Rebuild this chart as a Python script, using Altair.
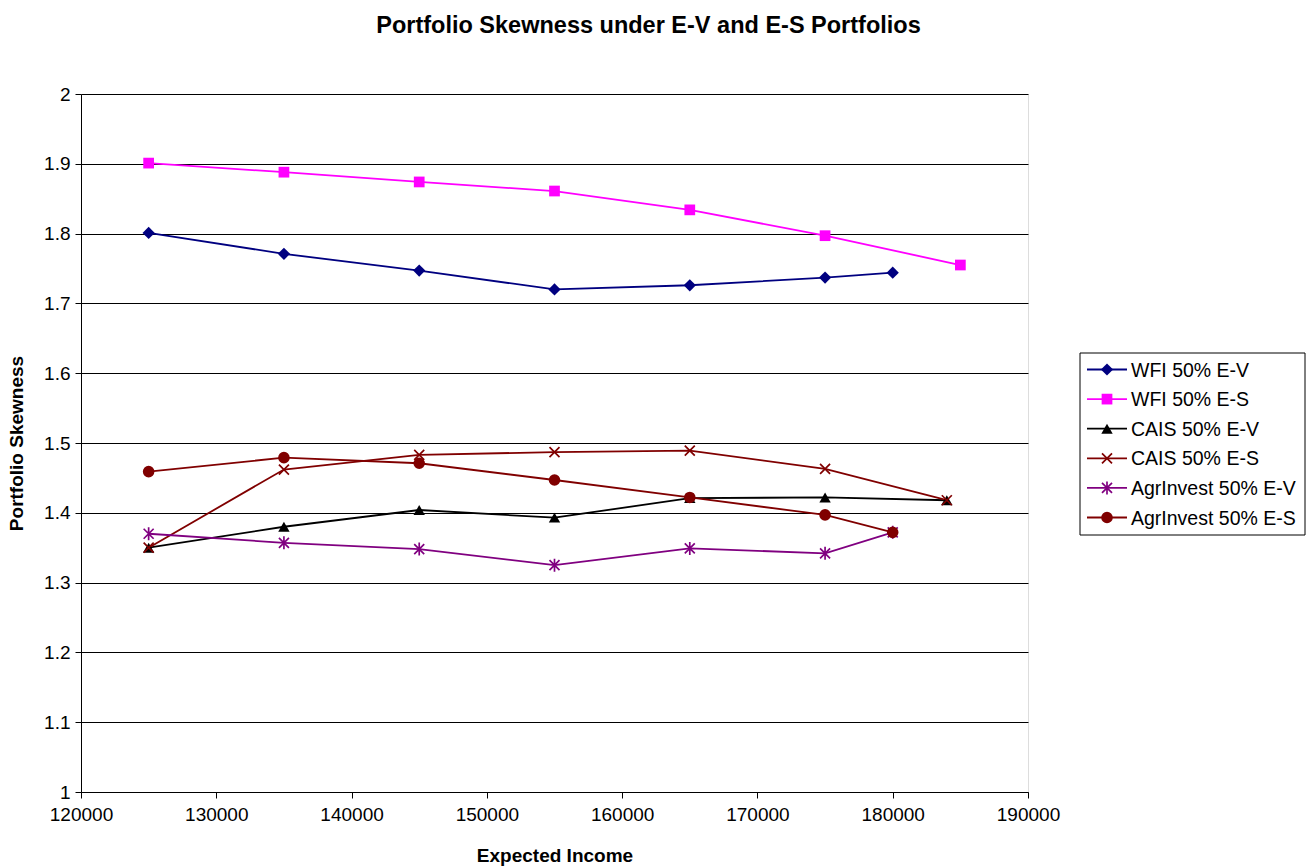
import altair as alt
import pandas as pd

# ---- data -------------------------------------------------------------
series_names = [
    "WFI 50% E-V",
    "WFI 50% E-S",
    "CAIS 50% E-V",
    "CAIS 50% E-S",
    "AgrInvest 50% E-V",
    "AgrInvest 50% E-S",
]
series_colors = ["#000080", "#FF00FF", "#000000", "#800000", "#800080", "#800000"]

income_common = [125000, 135000, 145000, 155000, 165000, 175000]

wfi_ev_income = income_common + [180000]
wfi_ev_skew = [1.801, 1.771, 1.747, 1.720, 1.726, 1.737, 1.744]

wfi_es_income = income_common + [185000]
wfi_es_skew = [1.901, 1.888, 1.874, 1.861, 1.834, 1.797, 1.755]

cais_ev_income = income_common + [184000]
cais_ev_skew = [1.350, 1.380, 1.404, 1.393, 1.421, 1.422, 1.418]

cais_es_income = income_common + [184000]
cais_es_skew = [1.350, 1.462, 1.483, 1.487, 1.489, 1.463, 1.418]

agr_ev_income = income_common + [180000]
agr_ev_skew = [1.370, 1.357, 1.348, 1.325, 1.349, 1.342, 1.372]

agr_es_income = income_common + [180000]
agr_es_skew = [1.459, 1.479, 1.471, 1.447, 1.422, 1.397, 1.372]

x_ticks = [120000, 130000, 140000, 150000, 160000, 170000, 180000, 190000]
y_ticks = [1.0, 1.1, 1.2, 1.3, 1.4, 1.5, 1.6, 1.7, 1.8, 1.9, 2.0]

all_income = [wfi_ev_income, wfi_es_income, cais_ev_income,
              cais_es_income, agr_ev_income, agr_es_income]
all_skew = [wfi_ev_skew, wfi_es_skew, cais_ev_skew,
            cais_es_skew, agr_ev_skew, agr_es_skew]

rows = []
for name, xs, ys in zip(series_names, all_income, all_skew):
    for xv, yv in zip(xs, ys):
        rows.append({"series": name, "income": xv, "skew": yv})
df = pd.DataFrame(rows)

# ---- styling ----------------------------------------------------------
FONT = "Liberation Sans"

X_PATH = "M-1,-1L1,1M-1,1L1,-1"
STAR_PATH = "M-1,-1L1,1M-1,1L1,-1M0,-1.3L0,1.3"
marker_shapes = ["diamond", "square", "triangle-up", X_PATH, STAR_PATH, "circle"]
marker_filled = [True, True, True, False, False, True]
marker_sizes = [150, 115, 130, 100, 100, 135]

x_enc = alt.X(
    "income:Q",
    scale=alt.Scale(domain=[120000, 190000], nice=False, zero=False),
    axis=alt.Axis(
        values=x_ticks, format="d", grid=False, labelFlush=False,
        labelFont=FONT, labelFontSize=19, labelColor="black", labelPadding=7,
        tickColor="black", tickSize=6, domainColor="black",
        title="Expected Income", titleFont=FONT, titleFontSize=19,
        titleFontWeight="bold", titleColor="black", titlePadding=22,
    ),
)
y_enc = alt.Y(
    "skew:Q",
    scale=alt.Scale(domain=[1, 2], nice=False, zero=False),
    axis=alt.Axis(
        values=y_ticks, format=".1~f", grid=True, gridColor="black",
        gridOpacity=1, gridWidth=1,
        labelFont=FONT, labelFontSize=19, labelColor="black", labelPadding=5,
        tickColor="black", tickSize=6, domainColor="black",
        title="Portfolio Skewness", titleFont=FONT, titleFontSize=19,
        titleFontWeight="bold", titleColor="black", titlePadding=17,
    ),
)

base = alt.Chart(df)

lines = base.mark_line(strokeWidth=1.8).encode(
    x=x_enc,
    y=y_enc,
    color=alt.Color("series:N",
                    scale=alt.Scale(domain=series_names, range=series_colors),
                    legend=None),
    detail="series:N",
)


def marker(chart, shp, filled, sz, col):
    if filled:
        return chart.mark_point(shape=shp, filled=True, size=sz, color=col, opacity=1)
    return chart.mark_point(shape=shp, filled=False, size=sz, color=col,
                            strokeWidth=1.7, opacity=1)


point_layers = []
for name, col, shp, filled, sz in zip(series_names, series_colors,
                                       marker_shapes, marker_filled, marker_sizes):
    point_layers.append(
        marker(base, shp, filled, sz, col)
        .encode(x="income:Q", y="skew:Q")
        .transform_filter(alt.datum.series == name)
    )

# ---- legend box to the right of the plot (pixel offsets from the plot origin)
LEG_LEFT, LEG_RIGHT, LEG_TOP, LEG_BOTTOM = 999, 1224, 259, 441
ROW0, ROW_STEP = 275.5, 29.6
SEG_X0, SEG_X1, MARK_X, TEXT_X = 1006, 1046, 1026, 1050

legend_layers = [
    alt.Chart(pd.DataFrame({"box": [0]})).mark_rect(
        fill="white", stroke="black", strokeWidth=1
    ).encode(
        x=alt.value(LEG_LEFT), x2=alt.value(LEG_RIGHT),
        y=alt.value(LEG_TOP), y2=alt.value(LEG_BOTTOM),
    )
]
for i, (name, col, shp, filled, sz) in enumerate(
        zip(series_names, series_colors, marker_shapes, marker_filled, marker_sizes)):
    row_y = ROW0 + ROW_STEP * i
    entry = alt.Chart(pd.DataFrame({"series": [name]}))
    legend_layers.append(
        entry.mark_rule(color=col, strokeWidth=1.8).encode(
            x=alt.value(SEG_X0), x2=alt.value(SEG_X1), y=alt.value(row_y)
        )
    )
    legend_layers.append(
        marker(entry, shp, filled, sz, col).encode(
            x=alt.value(MARK_X), y=alt.value(row_y)
        )
    )
    legend_layers.append(
        entry.mark_text(
            align="left", baseline="middle", font=FONT, fontSize=19.5, color="black"
        ).encode(x=alt.value(TEXT_X), y=alt.value(row_y + 1), text="series:N")
    )

chart = alt.layer(lines, *point_layers, *legend_layers).properties(
    width=947,
    height=698,
    padding={"left": 81, "top": 94, "right": 286, "bottom": 74},
    autosize=alt.AutoSizeParams(type="none"),
    title=alt.TitleParams(
        text="Portfolio Skewness under E-V and E-S Portfolios",
        font=FONT, fontSize=23.5, fontWeight="bold", color="black",
        anchor="middle", offset=48, dx=94,
    ),
).configure_view(
    stroke="#808080", strokeWidth=1
).configure(background="white")

chart.save("out.html", embed_options={"renderer": "svg", "actions": False})
